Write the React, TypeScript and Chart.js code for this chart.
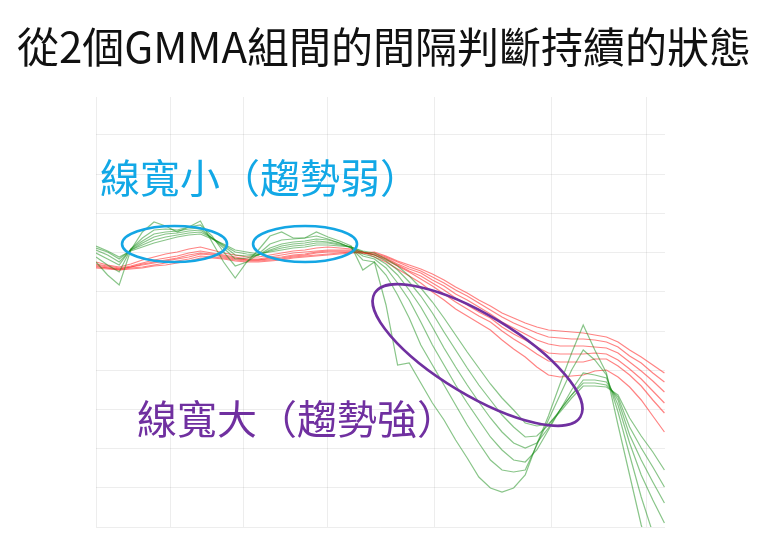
import React, { useEffect, useRef } from 'react';
import { Chart, registerables } from 'chart.js';

Chart.register(...registerables);

// Short-term GMMA group (fast -> slow), one value per trading day
const gmmaShort1 = [265, 252, 242, 277, 295, 305, 301, 295, 300, 306, 285, 265, 249, 265, 277, 291, 295, 289, 289, 295, 290, 286, 281, 257, 265, 222, 162, 164, 144, 124, 107, 87, 69, 50, 39, 35, 39, 52, 83, 111, 143, 174, 202, 177, 154, 102, 52, 2, -38, -83];
const gmmaShort2 = [270, 262, 255, 278, 289, 297, 298, 297, 300, 302, 291, 275, 261, 265, 273, 283, 287, 288, 289, 291, 288, 284, 279, 267, 265, 252, 232, 209, 182, 162, 142, 122, 102, 84, 67, 57, 55, 57, 82, 107, 132, 157, 177, 167, 152, 115, 72, 30, -6, -43];
const gmmaShort3 = [274, 268, 262, 278, 286, 293, 295, 296, 298, 299, 289, 279, 268, 269, 272, 279, 283, 285, 286, 288, 287, 284, 279, 271, 268, 259, 244, 227, 205, 182, 162, 142, 124, 107, 90, 77, 67, 65, 77, 97, 117, 137, 154, 152, 149, 122, 84, 52, 27, 4];
const gmmaShort4 = [277, 272, 265, 277, 284, 290, 293, 294, 296, 297, 289, 281, 272, 271, 272, 277, 281, 283, 284, 286, 285, 283, 280, 273, 270, 263, 252, 237, 220, 200, 179, 160, 142, 125, 109, 95, 84, 79, 84, 99, 117, 132, 147, 147, 145, 127, 92, 67, 45, 24];
const gmmaShort5 = [279, 275, 268, 277, 282, 287, 290, 292, 294, 295, 289, 282, 275, 273, 272, 276, 279, 281, 282, 284, 284, 282, 280, 275, 272, 266, 257, 245, 231, 214, 195, 177, 159, 142, 127, 112, 100, 90, 91, 102, 117, 132, 144, 144, 142, 130, 100, 79, 60, 40];
const gmmaShort6 = [281, 276, 270, 276, 280, 284, 287, 290, 292, 293, 288, 283, 277, 275, 273, 275, 277, 279, 280, 282, 282, 281, 280, 276, 274, 268, 261, 251, 239, 225, 209, 192, 175, 159, 143, 129, 117, 104, 101, 103, 115, 129, 141, 141, 140, 132, 109, 91, 75, 57];

// Long-term GMMA group (fast -> slow)
const gmmaLong1 = [265, 262, 260, 263, 267, 270, 273, 275, 278, 280, 277, 274, 272, 270, 270, 272, 274, 276, 277, 279, 280, 279, 278, 275, 270, 265, 258, 251, 244, 235, 227, 218, 211, 204, 197, 187, 178, 170, 160, 152, 150, 151, 152, 156, 157, 150, 140, 127, 111, 95];
const gmmaLong2 = [263, 261, 259, 261, 264, 267, 269, 271, 274, 276, 274, 272, 270, 268, 268, 270, 272, 274, 275, 276, 277, 277, 277, 275, 272, 267, 261, 255, 248, 241, 233, 225, 218, 211, 205, 196, 188, 181, 173, 166, 165, 165, 165, 168, 168, 161, 152, 141, 127, 114];
const gmmaLong3 = [262, 260, 258, 260, 263, 265, 267, 269, 272, 274, 273, 271, 269, 267, 267, 269, 270, 272, 273, 275, 276, 276, 276, 275, 272, 268, 262, 256, 251, 244, 237, 229, 222, 215, 209, 200, 193, 187, 180, 174, 173, 173, 173, 174, 173, 167, 158, 148, 136, 124];
const gmmaLong4 = [261, 259, 258, 260, 262, 264, 266, 268, 270, 273, 272, 270, 268, 267, 267, 268, 269, 271, 272, 274, 275, 275, 275, 274, 273, 269, 263, 258, 254, 247, 241, 233, 227, 220, 213, 205, 199, 193, 187, 183, 181, 181, 181, 180, 179, 174, 165, 156, 146, 135];
const gmmaLong5 = [260, 259, 257, 259, 260, 262, 264, 266, 268, 271, 270, 269, 267, 266, 266, 267, 268, 270, 271, 272, 273, 274, 275, 274, 274, 270, 265, 260, 256, 250, 244, 237, 231, 224, 217, 210, 204, 199, 194, 190, 189, 188, 188, 187, 185, 180, 171, 164, 154, 145];
const gmmaLong6 = [259, 258, 257, 258, 259, 261, 262, 264, 266, 269, 269, 268, 266, 265, 265, 266, 267, 269, 270, 271, 272, 273, 274, 274, 275, 271, 266, 262, 258, 253, 247, 240, 234, 227, 221, 214, 209, 204, 200, 197, 196, 195, 194, 192, 190, 185, 177, 170, 162, 154];

// Grid positions (in day / price units)
const xGridDays = [0, 6.46, 12.75, 19.98, 29.2, 39.28, 47.46];
const yGridLevels = [0, 39.2, 78.4, 117.6, 156.8, 196, 235.2, 274.4, 313.6, 352.8, 392];
const xMaxDay = 49.05;
const yMaxLevel = 430;

const titleText = '從2個GMMA組間的間隔判斷持續的狀態';
const weakLabel = '線寬小（趨勢弱）';
const strongLabel = '線寬大（趨勢強）';

const shortSeries = [gmmaShort1, gmmaShort2, gmmaShort3, gmmaShort4, gmmaShort5, gmmaShort6];
const longSeries = [gmmaLong1, gmmaLong2, gmmaLong3, gmmaLong4, gmmaLong5, gmmaLong6];

const CJK = '"Noto Sans CJK TC", "Noto Sans CJK JP", "Noto Sans", sans-serif';

const annotations = {
  ellipses: [
    { day: 6.77, level: 283, rx: 52.5, ry: 18, rot: 0, color: '#14a6e4', width: 2.6 },
    { day: 18.02, level: 283, rx: 52, ry: 18, rot: 0, color: '#14a6e4', width: 2.6 },
    { day: 32.89, level: 172, rx: 120, ry: 40, rot: 31, color: '#7030a0', width: 2.6 },
  ],
  labels: [
    { day: 0.34, level: 349, text: weakLabel, color: '#12a8e6', size: 40 },
    { day: 3.53, level: 108.5, text: strongLabel, color: '#7030a0', size: 40 },
  ],
};

const annotPlugin = {
  id: 'gmmaAnnotations',
  afterDatasetsDraw(chart: any) {
    const { ctx, scales } = chart;
    const xs = scales.x;
    const ys = scales.y;
    ctx.save();
    annotations.ellipses.forEach((e) => {
      ctx.beginPath();
      ctx.ellipse(
        xs.getPixelForValue(e.day),
        ys.getPixelForValue(e.level),
        e.rx,
        e.ry,
        (e.rot * Math.PI) / 180,
        0,
        Math.PI * 2
      );
      ctx.strokeStyle = e.color;
      ctx.lineWidth = e.width;
      ctx.stroke();
    });
    annotations.labels.forEach((l) => {
      ctx.font = `${l.size}px ${CJK}`;
      ctx.fillStyle = l.color;
      ctx.textAlign = 'left';
      ctx.textBaseline = 'middle';
      ctx.fillText(l.text, xs.getPixelForValue(l.day), ys.getPixelForValue(l.level));
    });
    ctx.restore();
  },
  afterDraw(chart: any) {
    const { ctx } = chart;
    ctx.save();
    ctx.font = `42px ${CJK}`;
    ctx.fillStyle = '#111111';
    ctx.textAlign = 'center';
    ctx.textBaseline = 'middle';
    ctx.fillText(titleText, 384, 47);
    ctx.restore();
  },
};

export default function App() {
  const canvasRef = useRef<HTMLCanvasElement | null>(null);

  useEffect(() => {
    if (!canvasRef.current) return;
    const toPoints = (arr: number[]) => arr.map((v, i) => ({ x: i, y: v }));
    const datasets: any[] = [];
    shortSeries.forEach((s, i) => {
      datasets.push({
        label: `short${i + 1}`,
        data: toPoints(s),
        borderColor: 'rgba(20, 140, 20, 0.5)',
        borderWidth: 1.2,
        pointRadius: 0,
        tension: 0,
        fill: false,
      });
    });
    longSeries.forEach((s, i) => {
      datasets.push({
        label: `long${i + 1}`,
        data: toPoints(s),
        borderColor: 'rgba(255, 30, 30, 0.55)',
        borderWidth: 1.2,
        pointRadius: 0,
        tension: 0,
        fill: false,
      });
    });

    const chart = new Chart(canvasRef.current, {
      type: 'line',
      data: { datasets },
      options: {
        animation: false,
        responsive: false,
        devicePixelRatio: 1,
        layout: { padding: { left: 96, right: 96, top: 97, bottom: 31 } },
        plugins: {
          legend: { display: false },
          tooltip: { enabled: false },
          title: { display: false },
        },
        scales: {
          x: {
            type: 'linear',
            min: 0,
            max: xMaxDay,
            ticks: { display: false },
            border: { display: false },
            grid: { color: 'rgba(0,0,0,0.07)', lineWidth: 1, drawTicks: false },
            afterBuildTicks: (scale: any) => {
              scale.ticks = xGridDays.map((v) => ({ value: v }));
            },
          },
          y: {
            type: 'linear',
            min: 0,
            max: yMaxLevel,
            ticks: { display: false },
            border: { display: false },
            grid: { color: 'rgba(0,0,0,0.07)', lineWidth: 1, drawTicks: false },
            afterBuildTicks: (scale: any) => {
              scale.ticks = yGridLevels.map((v) => ({ value: v }));
            },
          },
        },
      },
      plugins: [annotPlugin],
    } as any);

    return () => chart.destroy();
  }, []);

  return (
    <div style={{ position: 'absolute', left: 0, top: 0, width: 761, height: 558, background: '#ffffff' }}>
      <canvas ref={canvasRef} width={761} height={558} style={{ width: 761, height: 558, display: 'block' }} />
    </div>
  );
}
